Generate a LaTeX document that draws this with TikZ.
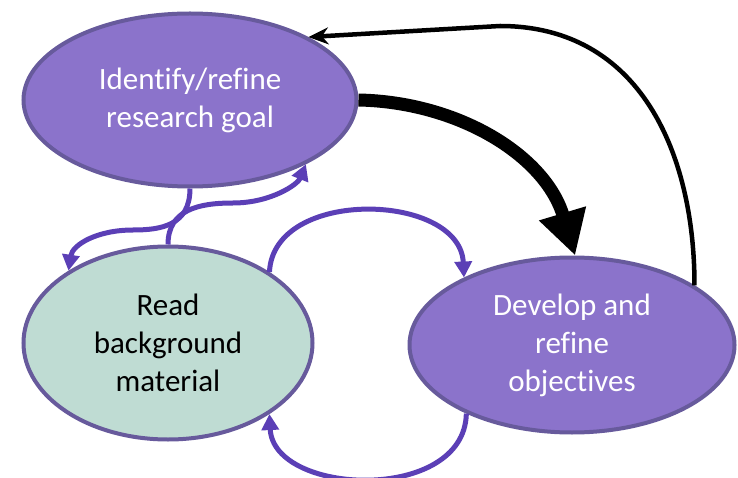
\documentclass[tikz,border=0pt]{standalone}
\usepackage{fontspec}
\setmainfont{Carlito}[Ligatures=NoCommon]
\usetikzlibrary{shapes.geometric,arrows.meta}
\definecolor{goalfill}{HTML}{8B73CB}
\definecolor{ringline}{HTML}{675A9C}
\definecolor{readfill}{HTML}{BFDCD3}
\definecolor{loopline}{HTML}{5B3FB6}
\tikzset{
  stage/.style={ellipse, draw=ringline, line width=4pt, inner sep=0pt,
    align=center, font=\fontsize{31}{38}\selectfont},
  purplestage/.style={stage, fill=goalfill, text=white},
  greenstage/.style={stage, fill=readfill, text=black},
  loop/.style={draw=loopline, line width=5pt,
    -{Triangle[length=16pt,width=17pt]}},
  mainflow/.style={draw=black, line width=13pt,
    -{Triangle[length=44pt,width=46pt]}},
  backflow/.style={draw=black, line width=4.5pt,
    -{Stealth[length=20pt,width=17pt]}}
}
\begin{document}
\begin{tikzpicture}[x=1pt,y=-1pt]
\useasboundingbox (0,0) rectangle (738,478);

% the three stages
\node[purplestage, minimum width=333pt, minimum height=173pt] (goal) at (190,100)
  {Identify/refine\\research goal};
\node[greenstage, minimum width=289pt, minimum height=193pt] (read) at (168,343)
  {Read\\background\\material};
\node[purplestage, minimum width=325pt, minimum height=175pt] (dev) at (572,345)
  {Develop and\\refine\\objectives};

% waypoints of the curved connectors
\coordinate (bend) at (500,26);
\coordinate (wA) at (133,230);
\coordinate (wB) at (233,203);

% goal -> objectives (main flow)
\draw[mainflow] (goal.east) .. controls +(100,2) and +(-30,-100) .. (dev.88);

% objectives -> goal (feedback)
\draw[backflow] (dev.26) .. controls +(0,-132) and +(140,0) .. (bend) -- (goal.28);

% goal <-> background reading
\draw[loop] (goal.south) .. controls +(0,37) and +(28,0) .. (wA)
  .. controls +(-36,0) and +(4,-26) .. (read.144);
\draw[loop] (read.north) .. controls +(0,-35) and +(-34,0) .. (wB)
  .. controls +(38,0) and +(-8,20) .. (goal.-29);

% background reading <-> objectives
\draw[loop] (read.35) .. controls +(4,-85) and +(-4,-85) .. (dev.148);
\draw[loop] (dev.-147) .. controls +(-2,90) and +(4,82) .. (read.-35);
\end{tikzpicture}
\end{document}
